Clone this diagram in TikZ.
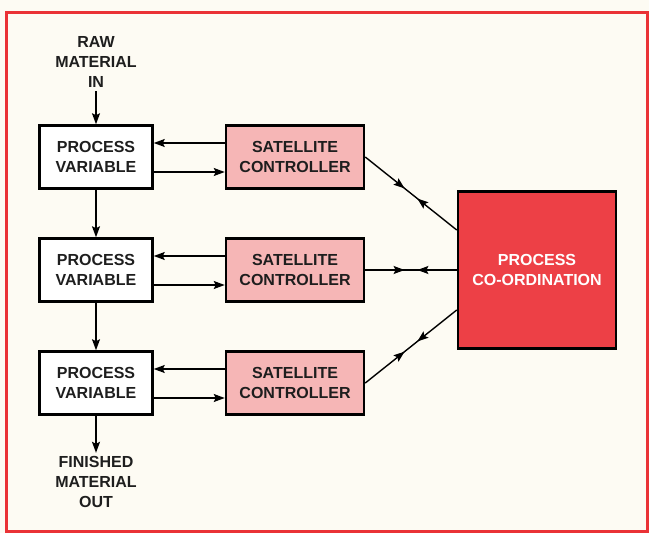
\documentclass[tikz,border=0pt]{standalone}
\usepackage{fontspec}
\setmainfont{Liberation Sans}
\usetikzlibrary{arrows.meta,decorations.markings}
\definecolor{paperCream}{RGB}{253,251,243}
\definecolor{frameRed}{RGB}{234,50,54}
\definecolor{coordRed}{RGB}{237,64,70}
\definecolor{satPink}{RGB}{246,182,182}
\definecolor{inkGrey}{RGB}{30,30,30}

\begin{document}
\begin{tikzpicture}[x=1pt, y=-1pt,
  every node/.style={font=\fontsize{16}{20}\selectfont\bfseries, text=inkGrey, align=center},
  pvbox/.style={draw=black, line width=2.5pt, fill=white, minimum width=113pt, minimum height=63pt, inner sep=0pt},
  scbox/.style={pvbox, fill=satPink, minimum width=138pt},
  pcbox/.style={pvbox, fill=coordRed, text=white, minimum width=158pt, minimum height=157pt},
  link/.style={-{Stealth[length=11pt,width=8pt,inset=2pt]}, line width=1.4pt},
  twoway/.style={line width=1.4pt, postaction=decorate, decoration={markings,
    mark=at position 0.43 with {\arrow{Stealth[length=11pt,width=8pt,inset=2pt]}},
    mark=at position 0.57 with {\arrowreversed{Stealth[length=11pt,width=8pt,inset=2pt]}}}}]
  % Page and frame
  \fill[paperCream] (0,0) rectangle (649,533);
  \draw[frameRed, line width=3pt] (6,12) rectangle (647,531);
  % Process variables
  \node[pvbox] (pv1) at (96,157) {PROCESS\\VARIABLE};
  \node[pvbox] (pv2) at (96,270) {PROCESS\\VARIABLE};
  \node[pvbox] (pv3) at (96,383) {PROCESS\\VARIABLE};
  % Satellite controllers
  \node[scbox] (sc1) at (295,157) {SATELLITE\\CONTROLLER};
  \node[scbox] (sc2) at (295,270) {SATELLITE\\CONTROLLER};
  \node[scbox] (sc3) at (295,383) {SATELLITE\\CONTROLLER};
  % Co-ordination
  \node[pcbox] (pc) at (537,270) {PROCESS\\CO-ORDINATION};
  % Material in / out
  \node (rawin) at (96,62) {RAW\\MATERIAL\\IN};
  \node (finout) at (96,482) {FINISHED\\MATERIAL\\OUT};
  % Material flow
  \draw[link] (rawin) -- (pv1);
  \draw[link] (pv1) -- (pv2);
  \draw[link] (pv2) -- (pv3);
  \draw[link] (pv3) -- (finout);
  % Control loops
  \draw[link] ([yshift=14pt]sc1.west) -- ([yshift=14pt]pv1.east);
  \draw[link] ([yshift=-15pt]pv1.east) -- ([yshift=-15pt]sc1.west);
  \draw[link] ([yshift=14pt]sc2.west) -- ([yshift=14pt]pv2.east);
  \draw[link] ([yshift=-15pt]pv2.east) -- ([yshift=-15pt]sc2.west);
  \draw[link] ([yshift=14pt]sc3.west) -- ([yshift=14pt]pv3.east);
  \draw[link] ([yshift=-15pt]pv3.east) -- ([yshift=-15pt]sc3.west);
  % Two-way links to co-ordination
  \draw[twoway] (sc1.east) -- ([yshift=40pt]pc.west);
  \draw[twoway] (sc2.east) -- (pc.west);
  \draw[twoway] (sc3.east) -- ([yshift=-40pt]pc.west);
\end{tikzpicture}
\end{document}
